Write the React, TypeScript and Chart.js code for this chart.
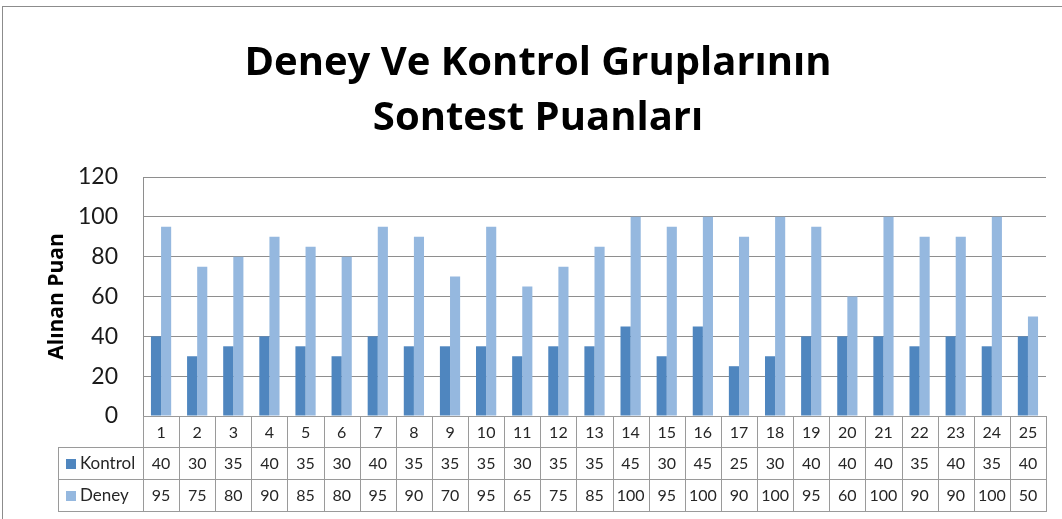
import React, { useEffect, useRef } from "react";
import { Chart, registerables } from "chart.js";

Chart.register(...registerables);

const categories = ["1", "2", "3", "4", "5", "6", "7", "8", "9", "10", "11", "12", "13", "14", "15", "16", "17", "18", "19", "20", "21", "22", "23", "24", "25"];
const kontrolValues = [40, 30, 35, 40, 35, 30, 40, 35, 35, 35, 30, 35, 35, 45, 30, 45, 25, 30, 40, 40, 40, 35, 40, 35, 40];
const deneyValues = [95, 75, 80, 90, 85, 80, 95, 90, 70, 95, 65, 75, 85, 100, 95, 100, 90, 100, 95, 60, 100, 90, 90, 100, 50];
const seriesNames = ["Kontrol", "Deney"];
const seriesColors = ["#4F86BF", "#95B8DF"];
const titleLines = ["Deney Ve Kontrol Gruplarının", "Sontest Puanları"];
const yAxisTitle = "Alınan Puan";
const yMin = 0;
const yMax = 120;
const yStep = 20;

const FONT = "Lato, 'Open Sans', sans-serif";
const BOLD_FONT = "'Open Sans', Lato, sans-serif";

const decorPlugin = {
  id: "decor",
  afterDraw(chart: any) {
    const ctx = chart.ctx as CanvasRenderingContext2D;
    const area = chart.chartArea;
    const xScale = chart.scales.x;
    ctx.save();

    // outer frame
    ctx.strokeStyle = "#8c8c8c";
    ctx.lineWidth = 1;
    ctx.strokeRect(2.5, 6.5, 1200, 700);

    // title
    ctx.fillStyle = "#000";
    ctx.textAlign = "center";
    ctx.textBaseline = "alphabetic";
    ctx.font = `bold 40px ${BOLD_FONT}`;
    ctx.fillText(titleLines[0], 538, 75);
    ctx.fillText(titleLines[1], 538, 130);

    // y axis title
    ctx.save();
    ctx.translate(57, (area.top + area.bottom) / 2);
    ctx.rotate(-Math.PI / 2);
    ctx.font = `bold 21px ${BOLD_FONT}`;
    ctx.textBaseline = "middle";
    ctx.fillText(yAxisTitle, 0, 0);
    ctx.restore();

    // data table
    const n = categories.length;
    const left = area.left;
    const right = area.right;
    const colW = (right - left) / n;
    const legendLeft = 58;
    const rowTops = [area.bottom, area.bottom + 31, area.bottom + 63, area.bottom + 95];
    const px = (v: number) => Math.round(v) + 0.5;

    ctx.strokeStyle = "#9a9a9a";
    ctx.lineWidth = 1;
    ctx.beginPath();
    ctx.moveTo(left, px(rowTops[0]));
    ctx.lineTo(right, px(rowTops[0]));
    for (let r = 1; r < 4; r++) {
      ctx.moveTo(legendLeft, px(rowTops[r]));
      ctx.lineTo(right, px(rowTops[r]));
    }
    for (let i = 0; i <= n; i++) {
      const x = px(left + i * colW);
      ctx.moveTo(x, rowTops[0]);
      ctx.lineTo(x, rowTops[3] + 1);
    }
    ctx.moveTo(px(legendLeft), rowTops[1]);
    ctx.lineTo(px(legendLeft), rowTops[3] + 1);
    ctx.stroke();

    ctx.fillStyle = "#262626";
    ctx.font = `16px ${FONT}`;
    ctx.textAlign = "center";
    ctx.textBaseline = "middle";
    const rowsData = [categories, kontrolValues.map(String), deneyValues.map(String)];
    for (let r = 0; r < 3; r++) {
      const cy = (rowTops[r] + rowTops[r + 1]) / 2 + 1;
      for (let i = 0; i < n; i++) {
        const cx = xScale.getPixelForValue(i);
        ctx.fillText(rowsData[r][i], cx, cy);
      }
    }
    ctx.textAlign = "left";
    ctx.font = `17px ${FONT}`;
    for (let s = 0; s < 2; s++) {
      const cy = (rowTops[s + 1] + rowTops[s + 2]) / 2 + 1;
      ctx.fillStyle = seriesColors[s];
      ctx.fillRect(66, Math.round(cy - 5), 10, 10);
      ctx.fillStyle = "#262626";
      ctx.fillText(seriesNames[s], 80, cy);
    }
    ctx.restore();
  },
};

export default function App() {
  const canvasRef = useRef<HTMLCanvasElement | null>(null);

  useEffect(() => {
    if (!canvasRef.current) return;
    const chart = new Chart(canvasRef.current, {
      type: "bar",
      data: {
        labels: categories,
        datasets: [
          { label: seriesNames[0], data: kontrolValues, backgroundColor: seriesColors[0], categoryPercentage: 0.56, barPercentage: 1.0 },
          { label: seriesNames[1], data: deneyValues, backgroundColor: seriesColors[1], categoryPercentage: 0.56, barPercentage: 1.0 },
        ],
      },
      options: {
        animation: false,
        responsive: false,
        maintainAspectRatio: false,
        devicePixelRatio: 1,
        layout: { padding: { left: 0, right: 16, top: 177, bottom: 0 } },
        plugins: {
          legend: { display: false },
          title: { display: false },
          tooltip: { enabled: false },
        },
        scales: {
          x: {
            ticks: { display: false },
            grid: { display: false },
            border: { display: false },
            afterFit(scale: any) {
              scale.height = 103;
            },
          },
          y: {
            min: yMin,
            max: yMax,
            ticks: {
              stepSize: yStep,
              padding: 25,
              color: "#1a1a1a",
              font: { family: FONT, size: 23 },
            },
            grid: { color: "#8e8e8e", drawTicks: false, lineWidth: 1 },
            border: { display: true, color: "#8e8e8e" },
            afterFit(scale: any) {
              scale.width = 143;
            },
          },
        },
      },
      plugins: [decorPlugin],
    });
    return () => chart.destroy();
  }, []);

  return (
    <div style={{ position: "fixed", left: 0, top: 0, width: 1062, height: 519, background: "#fff" }}>
      <canvas ref={canvasRef} width={1062} height={519} style={{ display: "block", width: 1062, height: 519 }} />
    </div>
  );
}
